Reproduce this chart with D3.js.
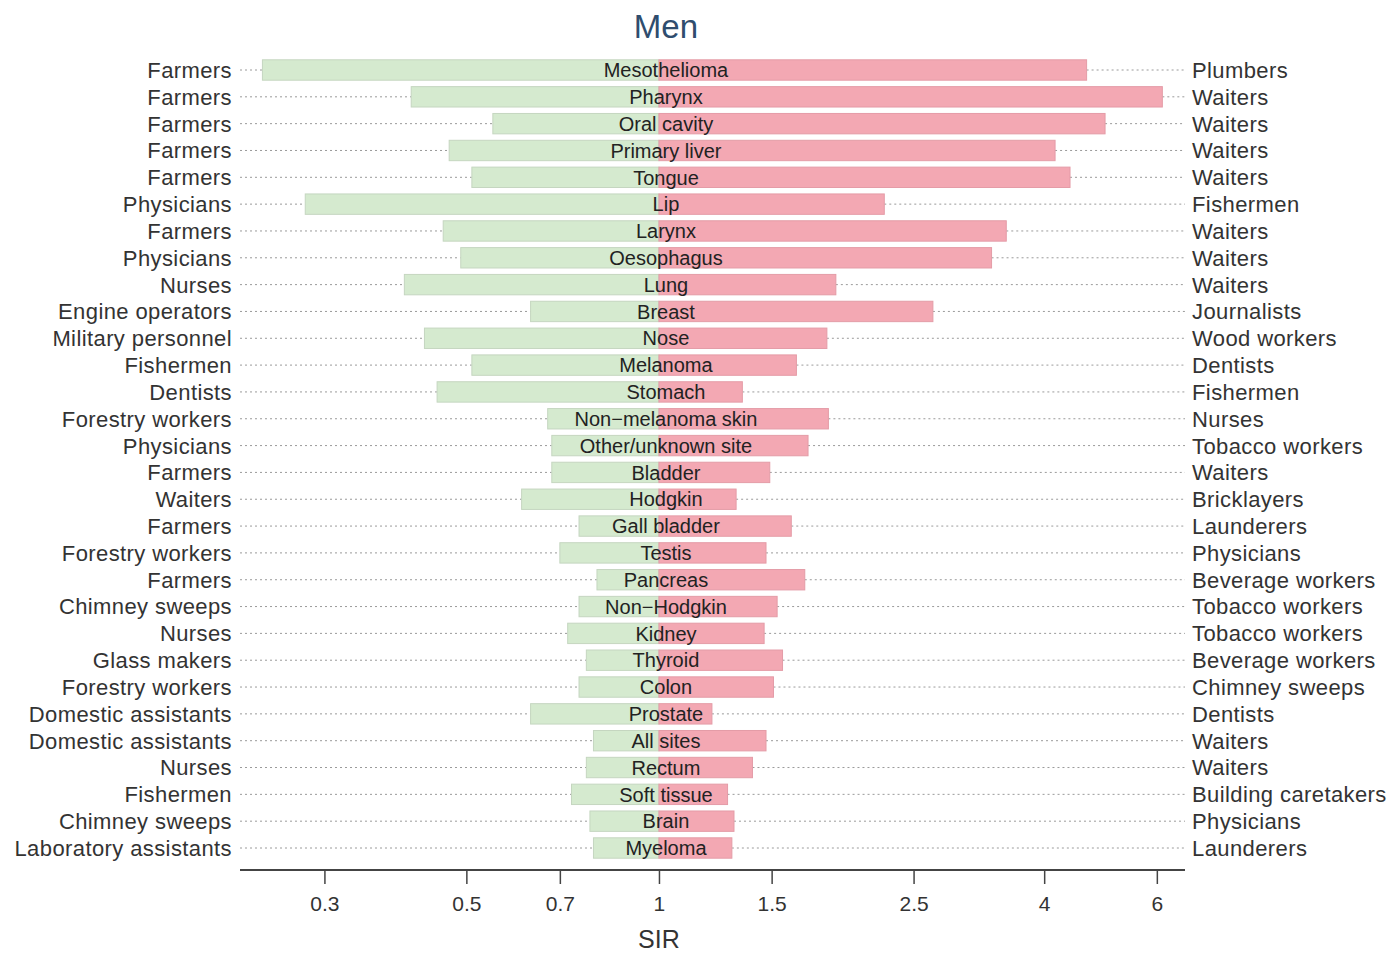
<!DOCTYPE html>
<html>
<head>
<meta charset="utf-8">
<script src="https://cdn.jsdelivr.net/npm/d3@7/dist/d3.min.js"></script>
<style>
  html, body { margin: 0; padding: 0; background: #fff; }
  svg { display: block; }
</style>
</head>
<body>
<svg id="chart" width="1391" height="953"></svg>
<script>
// Cancer sites, with the occupation that has the lowest and highest SIR for each
const sites = ["Mesothelioma", "Pharynx", "Oral cavity", "Primary liver", "Tongue", "Lip", "Larynx",
  "Oesophagus", "Lung", "Breast", "Nose", "Melanoma", "Stomach", "Non\u2212melanoma skin",
  "Other/unknown site", "Bladder", "Hodgkin", "Gall bladder", "Testis", "Pancreas",
  "Non\u2212Hodgkin", "Kidney", "Thyroid", "Colon", "Prostate", "All sites", "Rectum",
  "Soft tissue", "Brain", "Myeloma"];

const lowOccupation = ["Farmers", "Farmers", "Farmers", "Farmers", "Farmers", "Physicians", "Farmers",
  "Physicians", "Nurses", "Engine operators", "Military personnel", "Fishermen", "Dentists",
  "Forestry workers", "Physicians", "Farmers", "Waiters", "Farmers", "Forestry workers", "Farmers",
  "Chimney sweeps", "Nurses", "Glass makers", "Forestry workers", "Domestic assistants",
  "Domestic assistants", "Nurses", "Fishermen", "Chimney sweeps", "Laboratory assistants"];

const highOccupation = ["Plumbers", "Waiters", "Waiters", "Waiters", "Waiters", "Fishermen", "Waiters",
  "Waiters", "Waiters", "Journalists", "Wood workers", "Dentists", "Fishermen", "Nurses",
  "Tobacco workers", "Waiters", "Bricklayers", "Launderers", "Physicians", "Beverage workers",
  "Tobacco workers", "Tobacco workers", "Beverage workers", "Chimney sweeps", "Dentists",
  "Waiters", "Waiters", "Building caretakers", "Physicians", "Launderers"];

// Lowest and highest standardised incidence ratio per site
const lowSIR = [0.24, 0.41, 0.55, 0.47, 0.51, 0.28, 0.46, 0.49, 0.40, 0.63, 0.43, 0.51, 0.45, 0.67,
  0.68, 0.68, 0.61, 0.75, 0.70, 0.80, 0.75, 0.72, 0.77, 0.75, 0.63, 0.79, 0.77, 0.73, 0.78, 0.79];

const highSIR = [4.66, 6.12, 4.98, 4.16, 4.39, 2.25, 3.49, 3.31, 1.89, 2.68, 1.83, 1.64, 1.35, 1.84,
  1.71, 1.49, 1.32, 1.61, 1.47, 1.69, 1.53, 1.46, 1.56, 1.51, 1.21, 1.47, 1.40, 1.28, 1.31, 1.30];

const tickValues = [0.3, 0.5, 0.7, 1, 1.5, 2.5, 4, 6];

const svg = d3.select("#chart");
const font = "'Liberation Sans', Arial, sans-serif";
const narrowFont = "'Liberation Sans Narrow', 'Arial Narrow', 'Liberation Sans', Arial, sans-serif";

const xLeft = 240, xRight = 1185;
const x = d3.scaleLog().domain([0.2214, 6.64]).range([xLeft, xRight]);
const y = d3.scalePoint().domain(sites).range([70, 848]);
const barH = y.step() * 0.76;

const rows = sites.map((s, i) => ({
  site: s, lo: lowSIR[i], hi: highSIR[i], loOcc: lowOccupation[i], hiOcc: highOccupation[i]
}));

// Title
svg.append("text")
  .attr("x", x(1) + 7).attr("y", 38)
  .attr("text-anchor", "middle")
  .attr("font-family", font).attr("font-size", 33)
  .attr("fill", "#2f4d6e")
  .text("Men");

// Dotted leader lines
const leaders = svg.append("g").attr("stroke", "#9a9a9a").attr("stroke-width", 1)
  .attr("stroke-dasharray", "2,3");
leaders.selectAll("line.lo").data(rows).join("line")
  .attr("x1", xLeft).attr("x2", d => x(d.lo))
  .attr("y1", d => y(d.site)).attr("y2", d => y(d.site));
leaders.selectAll("line.hi").data(rows).join("line")
  .attr("x1", d => x(d.hi)).attr("x2", xRight)
  .attr("y1", d => y(d.site)).attr("y2", d => y(d.site));

// Bars below 1 (green) and above 1 (pink)
svg.append("g").selectAll("rect").data(rows).join("rect")
  .attr("x", d => x(d.lo)).attr("width", d => x(1) - x(d.lo))
  .attr("y", d => y(d.site) - barH / 2).attr("height", barH)
  .attr("fill", "#d5eacf").attr("stroke", "#c5d6c0").attr("stroke-width", 1);
svg.append("g").selectAll("rect").data(rows).join("rect")
  .attr("x", x(1)).attr("width", d => x(d.hi) - x(1))
  .attr("y", d => y(d.site) - barH / 2).attr("height", barH)
  .attr("fill", "#f3a8b3").attr("stroke", "#e49ca7").attr("stroke-width", 1);

// Site names across the bars
svg.append("g").selectAll("text").data(rows).join("text")
  .attr("x", x(1) + 7).attr("y", d => y(d.site))
  .attr("dy", "0.36em").attr("text-anchor", "middle")
  .attr("font-family", font).attr("font-size", 20).attr("fill", "#222")
  .text(d => d.site);

// Occupation labels
svg.append("g").selectAll("text").data(rows).join("text")
  .attr("x", 232).attr("y", d => y(d.site))
  .attr("dy", "0.36em").attr("text-anchor", "end")
  .attr("font-family", font).attr("font-size", 22).attr("letter-spacing", 0.4).attr("fill", "#333")
  .text(d => d.loOcc);
svg.append("g").selectAll("text").data(rows).join("text")
  .attr("x", 1192).attr("y", d => y(d.site))
  .attr("dy", "0.36em").attr("text-anchor", "start")
  .attr("font-family", font).attr("font-size", 22).attr("letter-spacing", 0.4).attr("fill", "#333")
  .text(d => d.hiOcc);

// X axis
const axis = svg.append("g").attr("transform", "translate(0,870)")
  .call(d3.axisBottom(x).tickValues(tickValues).tickFormat(d3.format("")).tickSize(14).tickPadding(12));
axis.select(".domain").attr("d", `M${xLeft},0H${xRight}`).attr("stroke", "#444").attr("stroke-width", 2);
axis.selectAll(".tick line").attr("stroke", "#444").attr("stroke-width", 1.5);
axis.selectAll(".tick text").attr("font-family", narrowFont).attr("font-size", 21).attr("fill", "#333");

svg.append("text")
  .attr("x", x(1)).attr("y", 948)
  .attr("text-anchor", "middle")
  .attr("font-family", narrowFont).attr("font-size", 25).attr("fill", "#333")
  .text("SIR");
</script>
</body>
</html>
